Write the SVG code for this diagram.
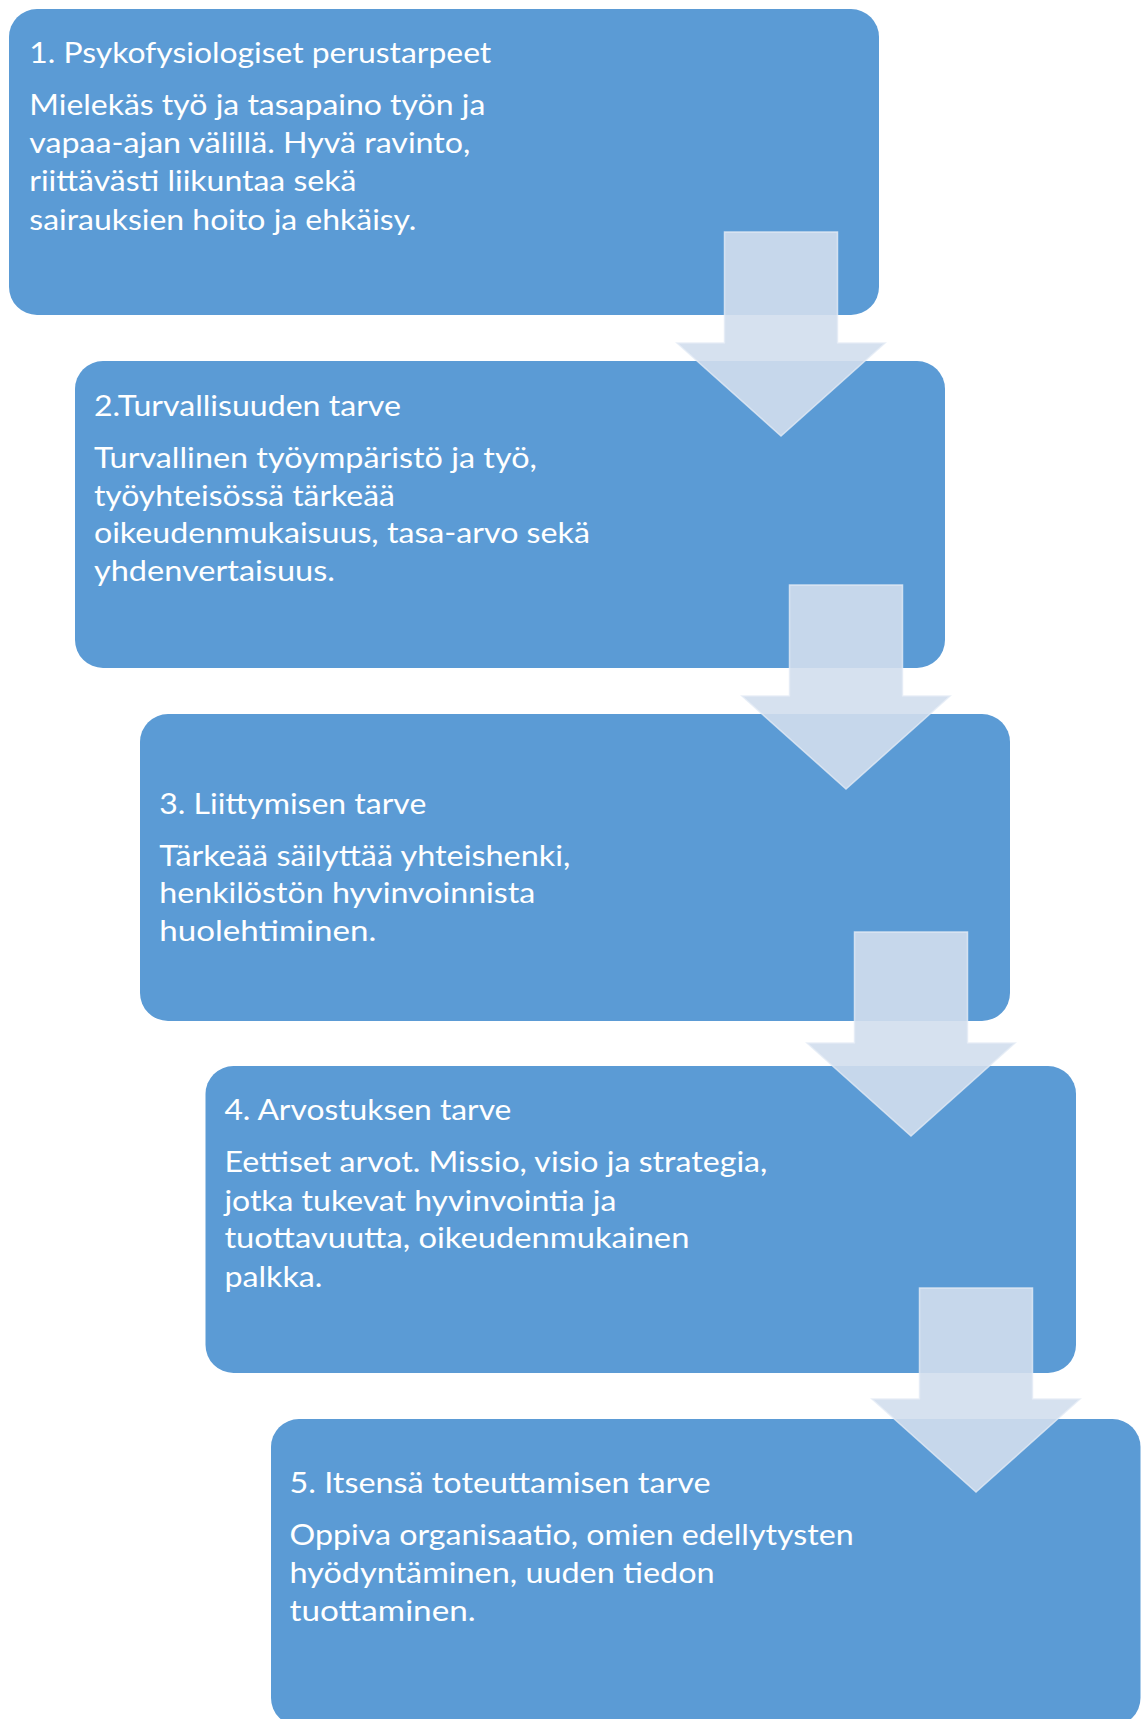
<svg xmlns="http://www.w3.org/2000/svg" width="1142" height="1719" viewBox="0 0 1142 1719">
  <style>
    .box { fill: #5b9bd5; }
    .t { font-family: Lato, "Open Sans", "Liberation Sans", sans-serif; fill: #ffffff; }
    .title { font-size: 29px; }
    .body { font-size: 28px; }
    .arrow { fill: #d1deed; fill-opacity: 0.9; stroke: #e3ebf5; stroke-opacity: 0.8; stroke-width: 1.5; }
  </style>
  <rect x="0" y="0" width="1142" height="1719" fill="#ffffff"/>
  <g id="node1">
    <rect class="box" x="9" y="9" width="870" height="306" rx="28" ry="28"/>
    <text class="t title" x="29.3" y="63.3" textLength="462" lengthAdjust="spacingAndGlyphs">1. Psykofysiologiset perustarpeet</text>
    <text class="t body" x="29.3" y="115" textLength="456" lengthAdjust="spacingAndGlyphs">Mielekäs työ ja tasapaino työn ja</text>
    <text class="t body" x="29.3" y="153.3" textLength="441" lengthAdjust="spacingAndGlyphs">vapaa-ajan  välillä. Hyvä ravinto,</text>
    <text class="t body" x="29.3" y="191" textLength="327" lengthAdjust="spacingAndGlyphs">riittävästi liikuntaa sekä</text>
    <text class="t body" x="29.3" y="230" textLength="387" lengthAdjust="spacingAndGlyphs">sairauksien hoito ja ehkäisy.</text>
  </g>
  <g id="node2">
    <rect class="box" x="75" y="361" width="870" height="307" rx="28" ry="28"/>
    <text class="t title" x="93.9" y="416" textLength="307" lengthAdjust="spacingAndGlyphs">2.Turvallisuuden tarve</text>
    <text class="t body" x="93.9" y="468.3" textLength="443" lengthAdjust="spacingAndGlyphs">Turvallinen työympäristö ja työ,</text>
    <text class="t body" x="93.9" y="506" textLength="301" lengthAdjust="spacingAndGlyphs">työyhteisössä tärkeää</text>
    <text class="t body" x="93.9" y="543.3" textLength="496" lengthAdjust="spacingAndGlyphs">oikeudenmukaisuus, tasa-arvo sekä</text>
    <text class="t body" x="93.9" y="580.7" textLength="241" lengthAdjust="spacingAndGlyphs">yhdenvertaisuus.</text>
  </g>
  <g id="node3">
    <rect class="box" x="140" y="714" width="870" height="307" rx="28" ry="28"/>
    <text class="t title" x="159.3" y="814" textLength="267" lengthAdjust="spacingAndGlyphs">3. Liittymisen tarve</text>
    <text class="t body" x="159.3" y="865.7" textLength="411" lengthAdjust="spacingAndGlyphs">Tärkeää säilyttää yhteishenki,</text>
    <text class="t body" x="159.3" y="903.3" textLength="376" lengthAdjust="spacingAndGlyphs">henkilöstön hyvinvoinnista</text>
    <text class="t body" x="159.3" y="940.7" textLength="217" lengthAdjust="spacingAndGlyphs">huolehtiminen.</text>
  </g>
  <g id="node4">
    <rect class="box" x="205.5" y="1066" width="870.5" height="307" rx="28" ry="28"/>
    <text class="t title" x="224.4" y="1120" textLength="287" lengthAdjust="spacingAndGlyphs">4. Arvostuksen tarve</text>
    <text class="t body" x="224.4" y="1172.3" textLength="543" lengthAdjust="spacingAndGlyphs">Eettiset arvot. Missio, visio ja strategia,</text>
    <text class="t body" x="224.4" y="1210.7" textLength="392" lengthAdjust="spacingAndGlyphs">jotka tukevat hyvinvointia ja</text>
    <text class="t body" x="224.4" y="1248.3" textLength="465" lengthAdjust="spacingAndGlyphs">tuottavuutta, oikeudenmukainen</text>
    <text class="t body" x="224.4" y="1286.7" textLength="98" lengthAdjust="spacingAndGlyphs">palkka.</text>
  </g>
  <g id="node5">
    <rect class="box" x="271" y="1419" width="869.5" height="307" rx="28" ry="28"/>
    <text class="t title" x="289.6" y="1492.7" textLength="421" lengthAdjust="spacingAndGlyphs">5. Itsensä toteuttamisen tarve</text>
    <text class="t body" x="289.6" y="1545" textLength="564" lengthAdjust="spacingAndGlyphs">Oppiva organisaatio, omien edellytysten</text>
    <text class="t body" x="289.6" y="1583.3" textLength="425" lengthAdjust="spacingAndGlyphs">hyödyntäminen, uuden tiedon</text>
    <text class="t body" x="289.6" y="1620.7" textLength="186" lengthAdjust="spacingAndGlyphs">tuottaminen.</text>
  </g>
  <g id="connectors">
    <polygon class="arrow" points="724.5,232 837.5,232 837.5,343 885,343 781,436 677,343 724.5,343"/>
    <polygon class="arrow" points="789.5,585 902.5,585 902.5,696 950,696 846,789 742,696 789.5,696"/>
    <polygon class="arrow" points="854.5,932 967.5,932 967.5,1043 1015,1043 911,1136 807,1043 854.5,1043"/>
    <polygon class="arrow" points="919.5,1288 1032.5,1288 1032.5,1399 1080,1399 976,1492 872,1399 919.5,1399"/>
  </g>
</svg>
